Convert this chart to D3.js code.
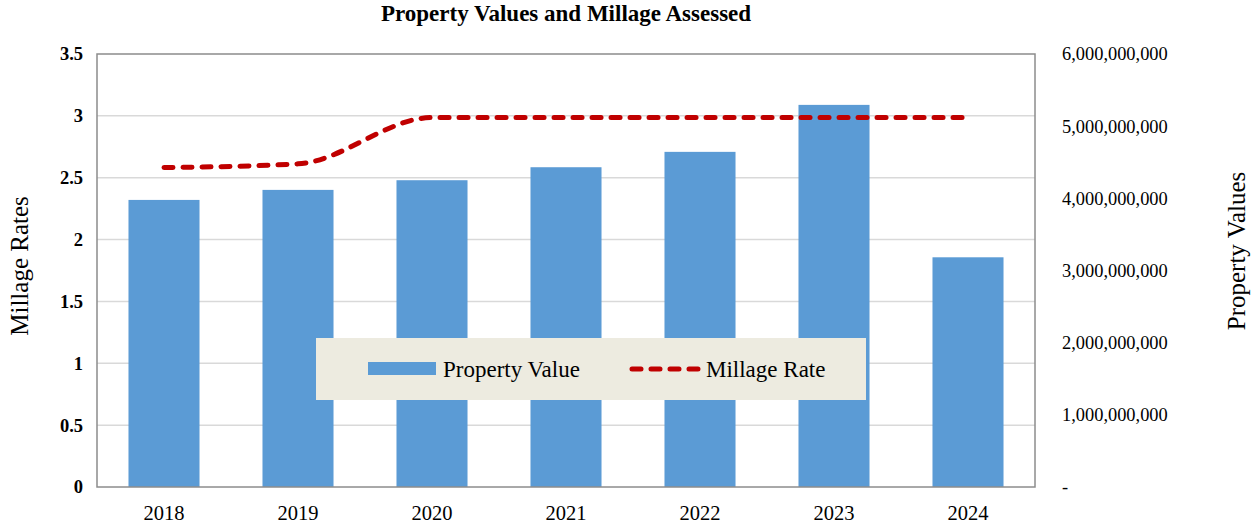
<!doctype html>
<html>
<head>
<meta charset="utf-8">
<script src="https://cdn.jsdelivr.net/npm/d3@7/dist/d3.min.js"></script>
<style>
  body { margin: 0; background: #fff; }
  svg { display: block; font-family: "Liberation Serif", "Times New Roman", serif; }
</style>
</head>
<body>
<svg id="chart" width="1260" height="524"></svg>
<script>
// data
var years = ["2018", "2019", "2020", "2021", "2022", "2023", "2024"];
var propertyValues = [3978000000, 4117000000, 4251000000, 4431000000, 4644000000, 5295000000, 3183000000];
var millageRates = [2.582, 2.612, 2.986, 2.986, 2.986, 2.986, 2.986];
var leftTicks = [0, 0.5, 1, 1.5, 2, 2.5, 3, 3.5];
var rightTicks = [0, 1e9, 2e9, 3e9, 4e9, 5e9, 6e9];

var svg = d3.select("#chart");
var plotL = 97, plotR = 1035, plotT = 54, plotB = 487;

var x = d3.scaleBand().domain(years).range([plotL, plotR]).paddingInner(0.47).paddingOuter(0.235);
var yL = d3.scaleLinear().domain([0, 3.5]).range([plotB, plotT]);
var yR = d3.scaleLinear().domain([0, 6e9]).range([plotB, plotT]);

// gridlines
svg.append("g").selectAll("line").data(leftTicks.slice(1, -1)).enter().append("line")
  .attr("x1", plotL).attr("x2", plotR)
  .attr("y1", d => yL(d)).attr("y2", d => yL(d))
  .attr("stroke", "#d9d9d9").attr("stroke-width", 1.5);

// bars
svg.append("g").selectAll("rect").data(propertyValues).enter().append("rect")
  .attr("x", (d, i) => x(years[i]))
  .attr("width", x.bandwidth())
  .attr("y", d => yR(d))
  .attr("height", d => plotB - yR(d))
  .attr("fill", "#5b9bd5");

// plot border
svg.append("rect")
  .attr("x", plotL).attr("y", plotT).attr("width", plotR - plotL).attr("height", plotB - plotT)
  .attr("fill", "none").attr("stroke", "#8c8c8c").attr("stroke-width", 1.5);

// millage line
var line = d3.line()
  .x((d, i) => x(years[i]) + x.bandwidth() / 2)
  .y(d => yL(d))
  .curve(d3.curveMonotoneX);
svg.append("path").datum(millageRates)
  .attr("d", line)
  .attr("fill", "none").attr("stroke", "#c00000").attr("stroke-width", 5)
  .attr("stroke-linecap", "round").attr("stroke-dasharray", "9,10");

// left axis
var axL = d3.axisLeft(yL).tickValues(leftTicks).tickSize(0).tickPadding(14).tickFormat(d3.format(""));
var gL = svg.append("g").attr("transform", "translate(" + plotL + ",0)").call(axL);
gL.select(".domain").remove();
gL.selectAll("text").attr("font-family", "Liberation Serif").attr("font-size", 18.5)
  .attr("font-weight", "bold").attr("fill", "#000");

// right axis
var axR = d3.axisRight(yR).tickValues(rightTicks).tickSize(0).tickPadding(27)
  .tickFormat(d => d === 0 ? "-" : d3.format(",")(d));
var gR = svg.append("g").attr("transform", "translate(" + plotR + ",0)").call(axR);
gR.select(".domain").remove();
gR.selectAll("text").attr("font-family", "Liberation Serif").attr("font-size", 18.4).attr("fill", "#000");

// bottom axis
var axB = d3.axisBottom(x).tickSize(0);
var gB = svg.append("g").attr("transform", "translate(0," + plotB + ")").call(axB);
gB.select(".domain").remove();
gB.selectAll("text").attr("dy", null).attr("y", 33)
  .attr("font-family", "Liberation Serif").attr("font-size", 20.5).attr("fill", "#000");

// title + axis titles
svg.append("text").attr("x", 566).attr("y", 21).attr("text-anchor", "middle")
  .attr("font-size", 23).attr("font-weight", "bold").text("Property Values and Millage Assessed");
svg.append("text").attr("transform", "translate(28,266) rotate(-90)").attr("text-anchor", "middle")
  .attr("font-size", 25).text("Millage Rates");
svg.append("text").attr("transform", "translate(1245,251) rotate(-90)").attr("text-anchor", "middle")
  .attr("font-size", 25).text("Property Values");

// legend
var lg = svg.append("g");
lg.append("rect").attr("x", 316).attr("y", 338).attr("width", 550).attr("height", 62).attr("fill", "#edebe0");
lg.append("rect").attr("x", 368).attr("y", 362).attr("width", 68).attr("height", 13).attr("fill", "#5b9bd5");
lg.append("text").attr("x", 443).attr("y", 377).attr("font-size", 23).text("Property Value");
lg.append("line").attr("x1", 632).attr("x2", 698).attr("y1", 369).attr("y2", 369)
  .attr("stroke", "#c00000").attr("stroke-width", 5).attr("stroke-linecap", "round").attr("stroke-dasharray", "9,10");
lg.append("text").attr("x", 706).attr("y", 377).attr("font-size", 23).text("Millage Rate");
</script>
</body>
</html>
